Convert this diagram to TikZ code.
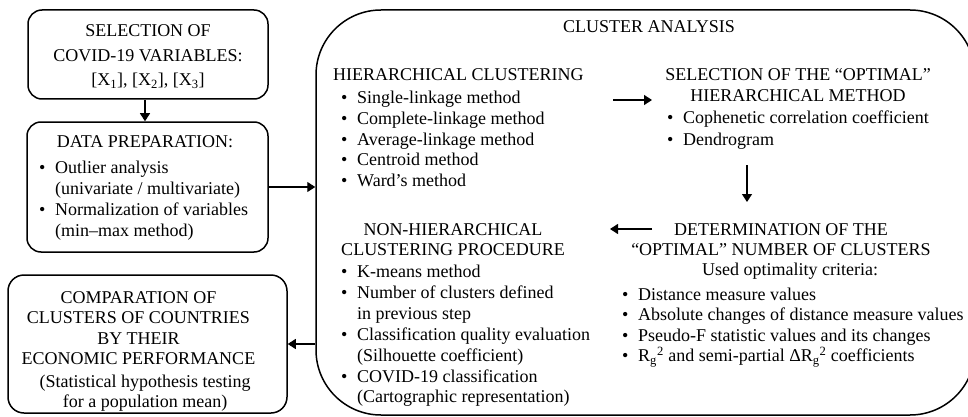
\documentclass[tikz,border=0pt]{standalone}
\usepackage{fontspec}
\setmainfont{Liberation Serif}
\usetikzlibrary{arrows.meta,calc}
\newcommand\bul{\hspace*{-3pt}\makebox[16pt][l]{•}}
\newcommand\ind{\hspace*{13pt}}
\begin{document}
\begin{tikzpicture}[x=1pt,y=-1pt,
  box/.style={draw, line width=1.5pt, rounded corners=14pt, inner sep=0pt},
  arr/.style={-{Triangle[length=8pt,width=10pt]}, line width=1.2pt},
  lbl/.style={inner sep=0pt, anchor=base, font=\fontsize{18}{20.6}\selectfont},
  lbll/.style={lbl, anchor=base west}]
\useasboundingbox (0,0) rectangle (968,417);

% boxes
\node[box, minimum width=240pt, minimum height=89pt] (sel) at (148,54.5) {};
\node[box, minimum width=241pt, minimum height=130pt] (prep) at (147.5,187) {};
\node[box, minimum width=279pt, minimum height=138pt, rounded corners=16pt] (comp) at (147.5,344) {};
\node[box, minimum width=659pt, minimum height=405pt, rounded corners=65pt] (ca) at (645.5,212.5) {};

% box 1
\node[lbl] (selT) at (148,37) {\begin{tabular}[t]{@{}c@{}}SELECTION OF\\[3.9pt]
 COVID-19 VARIABLES:\\[3.9pt]
 {[}X\textsubscript{1}], [X\textsubscript{2}], [X\textsubscript{3}]\end{tabular}};

% box 2
\node[lbl] (prepH) at (145,147) {DATA PREPARATION:};
\node[lbll] (prepL) at (42,173) {\begin{tabular}[t]{@{}l@{}}\bul Outlier analysis\\[0.7pt]
 \ind(univariate / multivariate)\\[0.7pt]
 \bul Normalization of variables\\[0.7pt]
 \ind(min–max method)\end{tabular}};

% box 3
\node[lbl] (compH) at (138.5,303) {\begin{tabular}[t]{@{}c@{}}COMPARATION OF\\
 CLUSTERS OF COUNTRIES\\
 BY THEIR\\
 ECONOMIC PERFORMANCE\end{tabular}};
\node[lbl] (compS) at (145,387) {\begin{tabular}[t]{@{}c@{}}(Statistical hypothesis testing\\
 for a population mean)\end{tabular}};

% cluster analysis
\node[lbl] (caT) at (649,33) {CLUSTER ANALYSIS};

\node[lbll] (hcH) at (333,81) {HIERARCHICAL CLUSTERING};
\node[lbll] (hcL) at (344,104) {\begin{tabular}[t]{@{}l@{}}\bul Single-linkage method\\
 \bul Complete-linkage method\\
 \bul Average-linkage method\\
 \bul Centroid method\\
 \bul Ward’s method\end{tabular}};

\node[lbl] (soH) at (798,81) {\begin{tabular}[t]{@{}c@{}}SELECTION OF THE “OPTIMAL”\\[0.4pt]
 HIERARCHICAL METHOD\end{tabular}};
\node[lbll] (soL) at (670,124) {\begin{tabular}[t]{@{}l@{}}\bul Cophenetic correlation coefficient\\[0.4pt]
 \bul Dendrogram\end{tabular}};

\node[lbl] (dnH) at (781,235) {\begin{tabular}[t]{@{}c@{}}DETERMINATION OF THE\\
 “OPTIMAL” NUMBER OF CLUSTERS\end{tabular}};
\node[lbl] (dnU) at (790,275) {Used optimality criteria:};
\node[lbll] (dnL) at (625,300) {\begin{tabular}[t]{@{}l@{}}\bul Distance measure values\\
 \bul Absolute changes of distance measure values\\
 \bul Pseudo-F statistic values and its changes\\
 \bul R\textsubscript{g}\textsuperscript{2} and semi-partial ΔR\textsubscript{g}\textsuperscript{2} coefficients\end{tabular}};

\node[lbl] (nhH) at (453,235) {\begin{tabular}[t]{@{}c@{}}NON-HIERARCHICAL\\
 CLUSTERING PROCEDURE\end{tabular}};
\node[lbll] (nhL) at (344,277.5) {\begin{tabular}[t]{@{}l@{}}\bul K-means method\\[0.3pt]
 \bul Number of clusters defined\\[0.3pt]
 \ind in previous step\\[0.3pt]
 \bul Classification quality evaluation\\[0.3pt]
 \ind(Silhouette coefficient)\\[0.3pt]
 \bul COVID-19 classification\\[0.3pt]
 \ind(Cartographic representation)\end{tabular}};

% connectors
\coordinate (a1s) at (613,100); \coordinate (a1e) at (652,100);
\coordinate (a2s) at (747,165); \coordinate (a2e) at (747,202);
\coordinate (a3s) at (652,229); \coordinate (a3e) at (610,229);
\draw[arr] ([xshift=-3pt]sel.south) -- ([xshift=-3pt]sel.south |- prep.north);
\draw[arr] (prep.east) -- (prep.east -| ca.west);
\draw[arr] (comp.east -| ca.west) -- (comp.east);
\draw[arr] (a1s) -- (a1e);
\draw[arr] (a2s) -- (a2e);
\draw[arr] (a3s) -- (a3e);
\end{tikzpicture}
\end{document}
